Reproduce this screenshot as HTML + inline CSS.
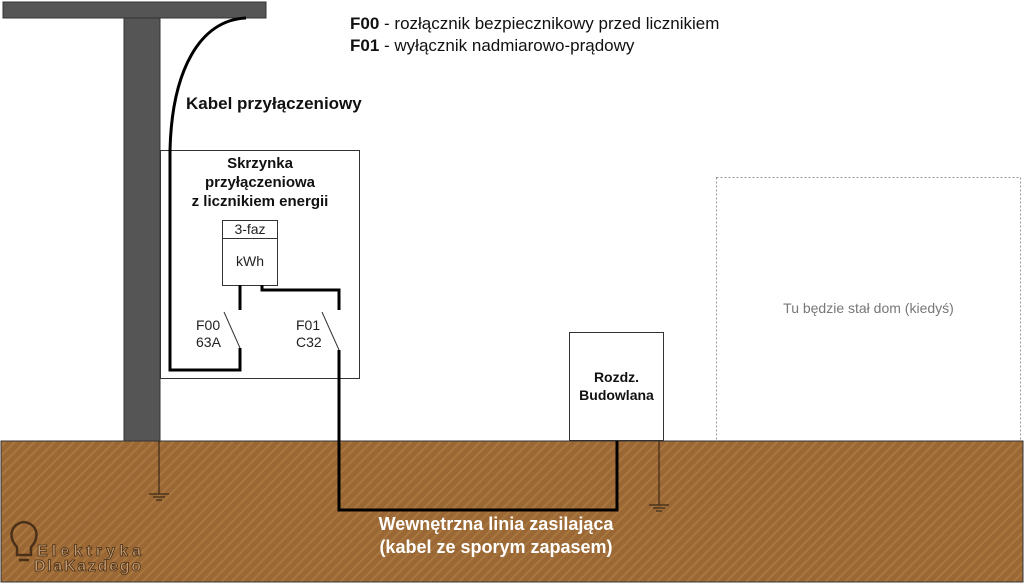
<!DOCTYPE html>
<html><head><meta charset="utf-8"><style>
html,body{margin:0;padding:0;background:#fff;}
body{width:1024px;height:583px;overflow:hidden;position:relative;font-family:"Liberation Sans",Arial,sans-serif;}
</style></head><body>
<svg width="1024" height="583" viewBox="0 0 1024 583" xmlns="http://www.w3.org/2000/svg" style="position:absolute;left:0;top:0">
<defs>
<pattern id="st" width="7" height="7" patternUnits="userSpaceOnUse" patternTransform="rotate(45)">
<rect width="7" height="7" fill="#9b6835"/>
<rect width="2" height="7" fill="#a8773f"/>
</pattern>
</defs>
<rect x="1" y="441" width="1022" height="141" fill="url(#st)" stroke="#333" stroke-width="1"/>
<rect x="3" y="2" width="263" height="16" fill="#555" stroke="#333"/>
<rect x="124" y="18" width="36" height="423" fill="#555" stroke="#333"/>
<rect x="160.5" y="150.5" width="199" height="228" fill="#fff" stroke="#333"/>
<rect x="716.5" y="177.5" width="304" height="263" fill="#fff" stroke="#999" stroke-dasharray="2,2"/>
<rect x="569.5" y="332.5" width="94" height="108" fill="#fff" stroke="#333"/>
<rect x="222.5" y="220.5" width="55" height="65" fill="#fff" stroke="#333"/>
<line x1="222" y1="238.5" x2="278" y2="238.5" stroke="#333"/>
<path d="M246,18 C200,20 172,70 170,150 L170,370 L240,370 L240,348" fill="none" stroke="#000" stroke-width="3"/>
<line x1="224" y1="312" x2="240" y2="348" stroke="#333" stroke-width="1"/>
<line x1="240" y1="285" x2="240" y2="310" stroke="#000" stroke-width="3"/>
<path d="M262,285 L262,290 L339,290 L339,310" fill="none" stroke="#000" stroke-width="3"/>
<line x1="322" y1="312" x2="339" y2="350" stroke="#333" stroke-width="1"/>
<path d="M339,350 L339,510 L617,510 L617,441" fill="none" stroke="#000" stroke-width="3"/>
<g stroke="#3a2a18" stroke-width="1.2">
<line x1="159" y1="441" x2="159" y2="494"/><line x1="149" y1="494" x2="169" y2="494"/><line x1="153" y1="497" x2="165" y2="497"/><line x1="156" y1="500" x2="162" y2="500"/>
<line x1="659" y1="441" x2="659" y2="505"/><line x1="649" y1="505" x2="669" y2="505"/><line x1="653" y1="508" x2="665" y2="508"/><line x1="656" y1="511" x2="662" y2="511"/>
</g>
<g fill="none" stroke="#4a3018" stroke-width="2.5">
<path d="M17,547 C8,538 10,524 24,522 C38,524 40,538 31,547 L31,555 L17,555 Z"/>
<line x1="19" y1="560" x2="29" y2="560"/>
</g>
<text x="37" y="556" font-size="16" font-weight="bold" fill="#c49b70" stroke="#4a3018" stroke-width="0.8" textLength="104">Elektryka</text>
<text x="34" y="571" font-size="16" font-weight="bold" fill="#c49b70" stroke="#4a3018" stroke-width="0.8" textLength="107">DlaKazdego</text>
</svg>
<div style="position:absolute;left:350px;top:13px;font-size:17px;line-height:22px;color:#111;white-space:nowrap"><b>F00</b> - rozłącznik bezpiecznikowy przed licznikiem<br><b>F01</b> - wyłącznik nadmiarowo-prądowy</div>
<div style="position:absolute;left:186px;top:94px;font-size:17px;font-weight:bold;color:#111;white-space:nowrap">Kabel przyłączeniowy</div>
<div style="position:absolute;left:160px;top:154px;width:200px;text-align:center;font-size:15px;line-height:19px;font-weight:bold;color:#111">Skrzynka<br>przyłączeniowa<br>z licznikiem energii</div>
<div style="position:absolute;left:222px;top:221px;width:56px;text-align:center;font-size:14px;color:#222">3-faz</div>
<div style="position:absolute;left:222px;top:253px;width:56px;text-align:center;font-size:14px;color:#222">kWh</div>
<div style="position:absolute;left:196px;top:317px;font-size:14px;line-height:17px;color:#222">F00<br>63A</div>
<div style="position:absolute;left:296px;top:317px;font-size:14px;line-height:17px;color:#222">F01<br>C32</div>
<div style="position:absolute;left:569px;top:368px;width:95px;text-align:center;font-size:14px;line-height:18px;font-weight:bold;color:#111">Rozdz.<br>Budowlana</div>
<div style="position:absolute;left:716px;top:300px;width:305px;text-align:center;font-size:14px;color:#777">Tu będzie stał dom (kiedyś)</div>
<div style="position:absolute;left:296px;top:513px;width:400px;text-align:center;font-size:18px;line-height:23px;font-weight:bold;color:#fff;white-space:nowrap">Wewnętrzna linia zasilająca<br>(kabel ze sporym zapasem)</div>
</body></html>
